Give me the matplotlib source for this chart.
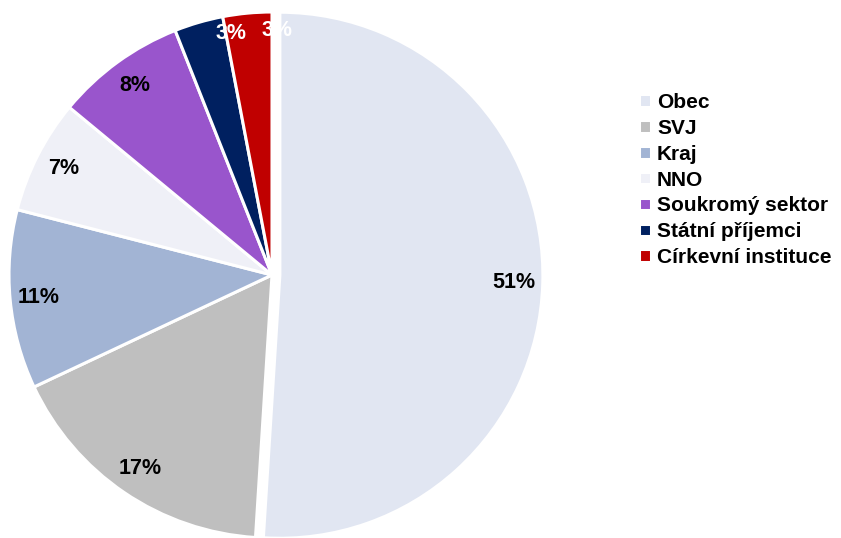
import numpy as np
import matplotlib.pyplot as plt

plt.rcParams['font.family'] = ['Liberation Sans', 'DejaVu Sans']

# share of recipients (%)
labels = ['Obec', 'SVJ', 'Kraj', 'NNO', 'Soukromý sektor', 'Státní příjemci', 'Církevní instituce']
values = [51, 17, 11, 7, 8, 3, 3]
colors = ['#E1E6F2', '#BFBFBF', '#A2B4D4', '#EFF0F7', '#9955CC', '#002060', '#C00000']
label_colors = ['black', 'black', 'black', 'black', 'black', 'white', 'white']
explode = [0.03, 0, 0, 0, 0, 0, 0]

W, H = 841, 538
fig = plt.figure(figsize=(W / 100, H / 100), dpi=100)

# pie centre and radius in pixels
cx, cy, r = 272, 263, 263
lim = 1.05
side = 2 * lim * r
ax = fig.add_axes([(cx - side / 2) / W, (cy - side / 2) / H, side / W, side / H])

wedges, texts, autotexts = ax.pie(
    values, colors=colors, explode=explode, startangle=90, counterclock=False,
    autopct='%1.0f%%', pctdistance=0.89,
    wedgeprops=dict(edgecolor='white', linewidth=2.2),
    textprops=dict(fontsize=15.5, fontweight='bold'))

for t, c in zip(autotexts, label_colors):
    t.set_color(c)

# the two thin slices have their labels pushed out and turned toward the top
for w, t in zip(wedges[-2:], autotexts[-2:]):
    ang = np.deg2rad((w.theta1 + w.theta2) / 2 - 6.5)
    t.set_position((0.93 * np.cos(ang), 0.93 * np.sin(ang)))

ax.set_xlim(-lim, lim)
ax.set_ylim(-lim, lim)
ax.set_aspect('equal')
ax.axis('off')

fig.legend(wedges, labels, loc='center left', bbox_to_anchor=(629 / W, 1 - 180 / H),
           frameon=False, borderpad=0, handlelength=0.55, handleheight=0.55,
           handletextpad=0.3, labelspacing=0.33,
           prop=dict(size=15, weight='bold'))

fig.savefig('out.png', dpi=100)
